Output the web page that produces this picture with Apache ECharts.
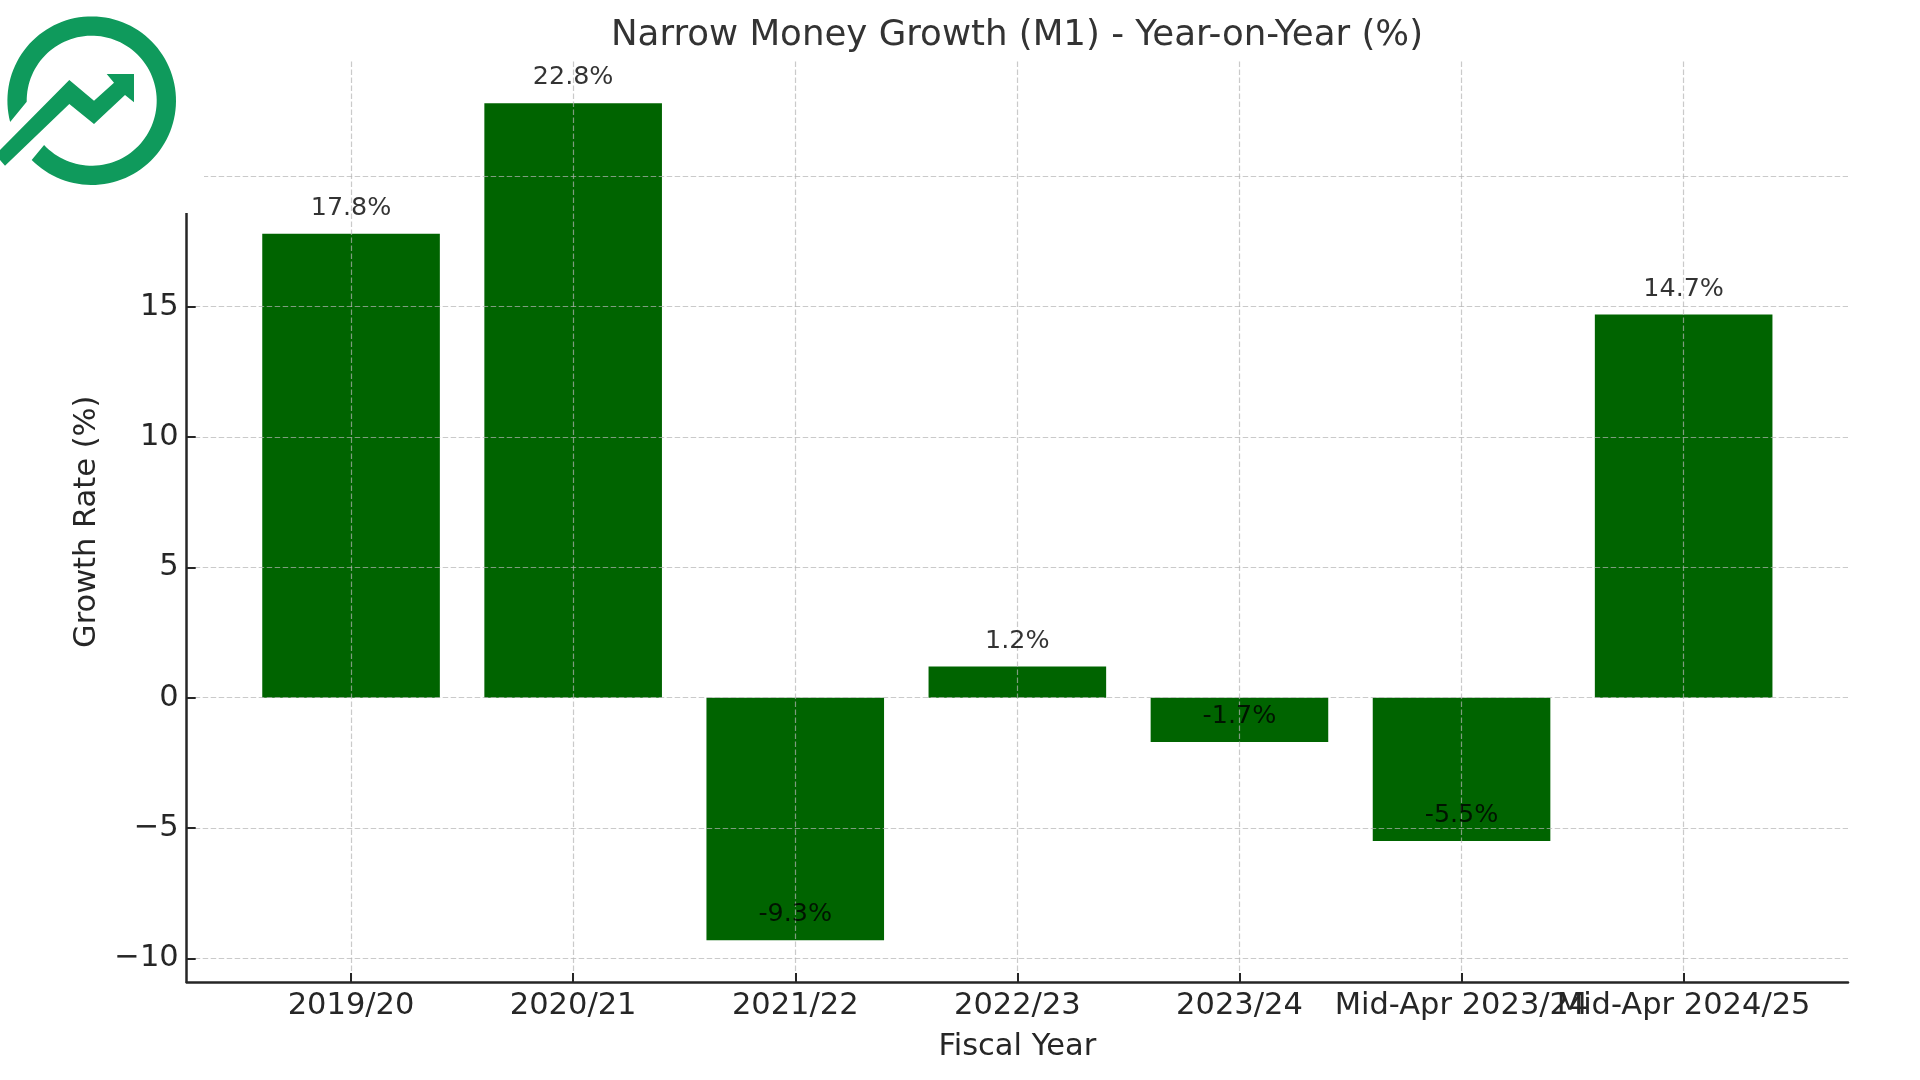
<!DOCTYPE html>
<html>
<head>
    <meta charset="UTF-8">
    <title>Narrow Money Growth (M1)</title>
    <script src="https://cdn.jsdelivr.net/npm/echarts@6/dist/echarts.min.js"></script>
    <style>
        html, body { margin: 0; padding: 0; background: #fff; }
    </style>
</head>
<body>
<div id="container" style="width:1920px; height:1080px;"></div>

<script>
    var categories = ['2019/20', '2020/21', '2021/22', '2022/23', '2023/24', 'Mid-Apr 2023/24', 'Mid-Apr 2024/25'];
    var growth = [17.8, 22.8, -9.3, 1.2, -1.7, -5.5, 14.7];
    var yTicks = [-10, -5, 0, 5, 10, 15, 20];

    var font = '"DejaVu Sans", sans-serif';
    var inkColor = '#262626';
    var gridColor = 'rgba(180,180,180,0.7)';
    var logoColor = '#0f9a5c';

    var xPositions = categories.map(function (c, i) { return i; });
    var barData = growth.map(function (v, i) { return [i, v]; });

    function categoryLabel(v) { return categories[v]; }

    // logo ring: center and radii in page pixels, gap at the lower left
    function ringPoints(cx, cy, rOut, rIn) {
        var pts = [];
        var a;
        for (a = 165.4; a <= 497.3; a += 3) {
            pts.push([cx + rOut * Math.cos(a * Math.PI / 180), cy + rOut * Math.sin(a * Math.PI / 180)]);
        }
        for (a = 497.1; a >= 176.2; a -= 3) {
            pts.push([cx + rIn * Math.cos(a * Math.PI / 180), cy + rIn * Math.sin(a * Math.PI / 180)]);
        }
        return pts;
    }
    var arrowPoints = [[0, 150], [69.3, 80], [94, 100.7], [114, 82.7], [106.7, 74], [134, 74],
        [134, 102.3], [125, 95], [94, 124], [69.3, 104], [5, 165.7], [0, 160]];

    var chart = echarts.init(document.getElementById('container'), null, {renderer: 'canvas'});
    var option = {
        animation: false,
        backgroundColor: '#ffffff',
        title: {
            text: 'Narrow Money Growth (M1) - Year-on-Year (%)',
            left: 1012,
            top: 13,
            textAlign: 'center',
            textStyle: {fontFamily: font, fontSize: 35.6, fontWeight: 'normal', color: '#333333'}
        },
        grid: {left: 186.7, right: 72, top: 61.5, bottom: 98},
        xAxis: [
            {
                type: 'value',
                min: -0.74,
                max: 6.74,
                z: 3,
                name: 'Fiscal Year',
                nameLocation: 'middle',
                nameGap: 50,
                nameTextStyle: {fontFamily: font, fontSize: 30.5, color: inkColor},
                axisLine: {show: true, onZero: false, lineStyle: {color: inkColor, width: 2.5}},
                axisTick: {show: true, inside: true, length: 9, customValues: xPositions, lineStyle: {color: inkColor, width: 2}},
                axisLabel: {
                    fontFamily: font, fontSize: 30.5, color: inkColor, margin: 9,
                    customValues: xPositions.slice(0, -1),
                    formatter: categoryLabel
                },
                splitLine: {show: true, lineStyle: {color: gridColor, width: 1.2, type: [5.5, 2.5]}}
            },
            {
                // last label runs into its neighbour in the original, and one axis would hide one of them
                type: 'value',
                position: 'bottom',
                min: -0.74,
                max: 6.74,
                axisLine: {show: false},
                axisTick: {show: false},
                splitLine: {show: false},
                axisLabel: {
                    fontFamily: font, fontSize: 30.5, color: inkColor, margin: 9,
                    customValues: xPositions.slice(-1),
                    formatter: categoryLabel
                }
            }
        ],
        yAxis: {
            type: 'value',
            min: -10.905,
            max: 24.405,
            z: 3,
            name: 'Growth Rate (%)',
            nameLocation: 'middle',
            nameGap: 84,
            nameTextStyle: {fontFamily: font, fontSize: 30.5, color: inkColor},
            axisLine: {show: true, onZero: false, lineStyle: {color: inkColor, width: 2.5}},
            axisTick: {show: true, inside: true, length: 9, customValues: yTicks, lineStyle: {color: inkColor, width: 2}},
            axisLabel: {
                fontFamily: font, fontSize: 30.5, color: inkColor, margin: 8,
                padding: [4, 0, 0, 0],
                customValues: yTicks,
                formatter: function (v) { return v < 0 ? '\u2212' + (-v) : String(v); }
            },
            splitLine: {show: true, lineStyle: {color: gridColor, width: 1.2, type: [5.5, 2.5]}}
        },
        series: [
            {
                type: 'bar',
                z: 2,
                barWidth: 177.6,
                itemStyle: {color: '#006400'},
                data: barData
            },
            {
                // value labels sit a fixed distance above each bar's end, also on negative bars
                type: 'scatter',
                z: 4,
                symbolSize: 0,
                silent: true,
                label: {
                    show: true,
                    position: 'top',
                    distance: 13,
                    fontFamily: font,
                    fontSize: 25.4,
                    color: '#000000',
                    formatter: function (p) { return growth[p.dataIndex] + '%'; }
                },
                data: barData
            }
        ],
        graphic: [
            {type: 'rect', z: 100, shape: {x: 0, y: 0, width: 204, height: 213}, style: {fill: '#ffffff'}},
            {type: 'polygon', z: 101, shape: {points: ringPoints(91.7, 100.7, 84.3, 65)}, style: {fill: logoColor}},
            {type: 'polygon', z: 101, shape: {points: arrowPoints}, style: {fill: logoColor}}
        ]
    };
    chart.setOption(option);
</script>
</body>
</html>
